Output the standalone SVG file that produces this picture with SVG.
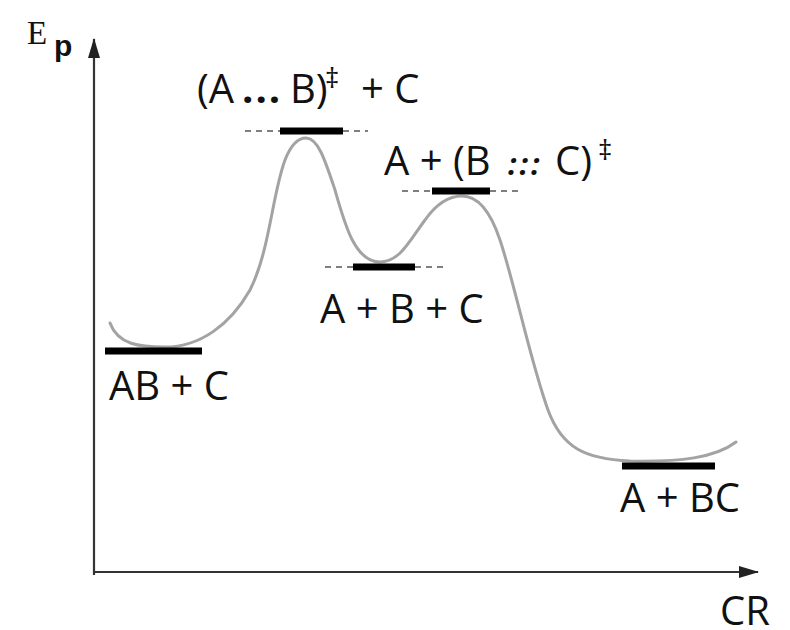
<svg xmlns="http://www.w3.org/2000/svg" width="790" height="630" viewBox="0 0 790 630">
<style>
.lbl{font-family:"Open Sans","Liberation Sans",sans-serif;font-size:40px;fill:#111}
.dag{font-size:28px}
.bar{stroke:#000;stroke-width:7;fill:none}
.dash{stroke:#555;stroke-width:1.6;stroke-dasharray:6 5;fill:none}
.axis{stroke:#333;stroke-width:2.2;fill:none}
.curve{stroke:#a3a3a3;stroke-width:3;fill:none;stroke-linecap:round}
</style>
<defs>
<marker id="ah" viewBox="0 0 20 12" refX="19" refY="6" markerWidth="20" markerHeight="12" markerUnits="userSpaceOnUse" orient="auto">
<path d="M0,0 L20,6 L0,12 Z" fill="#222"/>
</marker>
</defs>
<rect width="790" height="630" fill="#fff"/>
<g id="connectors">
<line class="axis" x1="94" y1="575" x2="94" y2="39" marker-end="url(#ah)"/>
<line class="axis" x1="93" y1="572" x2="758" y2="572" marker-end="url(#ah)"/>
<path class="curve" d="M110,323 C118,345 140,347 165,347 C200,347 230,325 250,290 C270,250 272,195 285,160 C292,142 300,138 306,138 C318,138 325,160 335,190 C345,225 355,262 380,262 C400,262 410,240 425,220 C437,203 450,196 462,196 C478,196 490,210 500,240 C515,285 530,360 548,410 C562,448 585,459 630,461 C680,462 715,458 736,442"/>
</g>
<g id="axis-labels">
<text x="27" y="44" font-family="Liberation Serif,serif" font-size="33" fill="#111">E</text>
<text x="54" y="56" font-family="Liberation Sans,sans-serif" font-size="30" font-weight="bold" fill="#111">p</text>
<text class="lbl" x="720" y="625">CR</text>
</g>
<g id="node-reactants">
<line class="bar" x1="105" y1="351" x2="202" y2="351"/>
<text class="lbl" x="109" y="400">AB + C</text>
</g>
<g id="node-ts1">
<line class="dash" x1="245" y1="131" x2="280" y2="131"/>
<line class="dash" x1="343" y1="131" x2="368" y2="131"/>
<line class="bar" x1="280" y1="131" x2="343" y2="131"/>
<text class="lbl" y="103"><tspan x="197">(A</tspan><tspan x="242" font-weight="bold" letter-spacing="2">...</tspan><tspan x="290">B)</tspan><tspan class="dag" x="325" dy="-15">‡</tspan><tspan x="361" dy="15">+ C</tspan></text>
</g>
<g id="node-intermediate">
<line class="dash" x1="325" y1="267" x2="353" y2="267"/>
<line class="dash" x1="415" y1="267" x2="447" y2="267"/>
<line class="bar" x1="353" y1="267" x2="415" y2="267"/>
<text class="lbl" x="320" y="323">A + B + C</text>
</g>
<g id="node-ts2">
<line class="dash" x1="402" y1="191" x2="432" y2="191"/>
<line class="dash" x1="490" y1="191" x2="523" y2="191"/>
<line class="bar" x1="432" y1="191" x2="490" y2="191"/>
<text class="lbl" y="175"><tspan x="384">A + (B</tspan><tspan x="508" font-size="30" font-weight="bold" font-style="italic" letter-spacing="3">:::</tspan><tspan x="555">C)</tspan><tspan class="dag" x="598" dy="-15">‡</tspan></text>
</g>
<g id="node-products">
<line class="bar" x1="622" y1="466" x2="715" y2="466"/>
<text class="lbl" x="620" y="512">A + BC</text>
</g>
</svg>
